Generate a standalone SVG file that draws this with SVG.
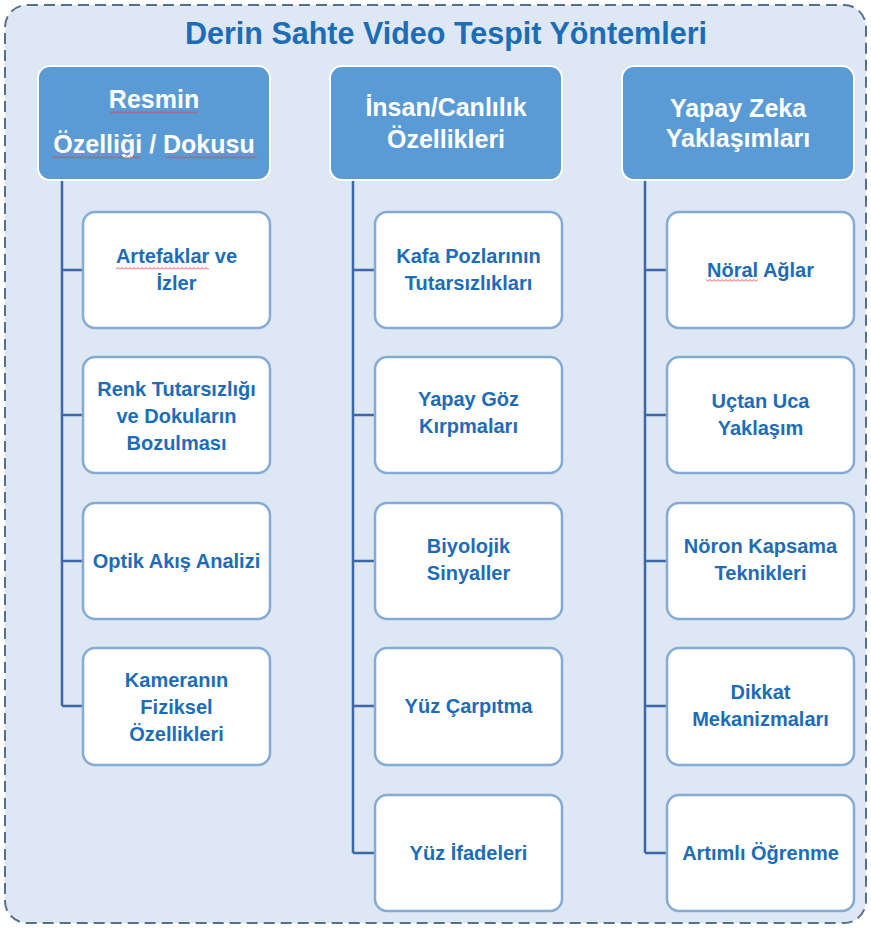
<svg xmlns="http://www.w3.org/2000/svg" width="871" height="928" viewBox="0 0 871 928">
  <defs>
    <pattern id="wave" width="4" height="3" patternUnits="userSpaceOnUse">
      <path d="M0,2.5 L2,0.5 L4,2.5" fill="none" stroke="#e03c3c" stroke-width="0.9"/>
    </pattern>
    <style>
      .frame { fill: #dde8f4; stroke: #56708c; stroke-width: 2; stroke-dasharray: 11 6; }
      .title { font-family: "Liberation Sans", Arial, sans-serif; font-weight: bold; font-size: 30.5px; fill: #1d6cb8; text-anchor: middle; }
      .head rect { fill: #5b9bd5; stroke: #ffffff; stroke-width: 2; }
      .head text { font-family: "Liberation Sans", Arial, sans-serif; font-weight: bold; font-size: 25px; fill: #ffffff; text-anchor: middle; }
      .item rect { fill: #ffffff; stroke: #85aad6; stroke-width: 2.5; }
      .item text { font-family: "Liberation Sans", Arial, sans-serif; font-weight: bold; font-size: 20px; fill: #1d6cb8; text-anchor: middle; }
      .conn { fill: none; stroke: #3f66a8; stroke-width: 2.5; }
      .head rect.sq, .item rect.sq { stroke: none; fill: url(#wave); }
    </style>
  </defs>

  <rect class="frame" x="5" y="5" width="861" height="918" rx="22" ry="22"/>
  <text class="title" x="446" y="44">Derin Sahte Video Tespit Yöntemleri</text>

  <g id="connectors">
    <path class="conn" d="M62,180 V706 M62,270 H83 M62,415 H83 M62,561 H83 M62,706 H83"/>
    <path class="conn" d="M353,180 V853 M353,270 H375 M353,415 H375 M353,561 H375 M353,706 H375 M353,853 H375"/>
    <path class="conn" d="M645,180 V853 M645,270 H667 M645,415 H667 M645,561 H667 M645,706 H667 M645,853 H667"/>
  </g>

  <!-- Column 1 -->
  <g id="h1" class="head">
    <rect x="38" y="66" width="232" height="114" rx="12" ry="12"/>
    <text x="154" y="108">Resmin</text>
    <text x="154" y="153">Özelliği / Dokusu</text>
    <rect class="sq" x="110" y="111" width="88" height="3"/>
    <rect class="sq" x="52" y="156" width="88" height="3"/>
    <rect class="sq" x="166" y="156" width="91" height="3"/>
  </g>
  <g id="c1r1" class="item">
    <rect x="83" y="212" width="187" height="116" rx="12" ry="12"/>
    <text x="176.5" y="263">Artefaklar ve</text>
    <text x="176.5" y="290">İzler</text>
    <rect class="sq" x="116" y="267" width="93" height="3"/>
  </g>
  <g id="c1r2" class="item">
    <rect x="83" y="357" width="187" height="116" rx="12" ry="12"/>
    <text x="176.5" y="396">Renk Tutarsızlığı</text>
    <text x="176.5" y="423">ve Dokuların</text>
    <text x="176.5" y="450">Bozulması</text>
  </g>
  <g id="c1r3" class="item">
    <rect x="83" y="503" width="187" height="116" rx="12" ry="12"/>
    <text x="176.5" y="568">Optik Akış Analizi</text>
  </g>
  <g id="c1r4" class="item">
    <rect x="83" y="648" width="187" height="117" rx="12" ry="12"/>
    <text x="176.5" y="687">Kameranın</text>
    <text x="176.5" y="714">Fiziksel</text>
    <text x="176.5" y="741">Özellikleri</text>
  </g>

  <!-- Column 2 -->
  <g id="h2" class="head">
    <rect x="330" y="66" width="232" height="114" rx="12" ry="12"/>
    <text x="446" y="116">İnsan/Canlılık</text>
    <text x="446" y="148">Özellikleri</text>
  </g>
  <g id="c2r1" class="item">
    <rect x="375" y="212" width="187" height="116" rx="12" ry="12"/>
    <text x="468.5" y="263">Kafa Pozlarının</text>
    <text x="468.5" y="290">Tutarsızlıkları</text>
  </g>
  <g id="c2r2" class="item">
    <rect x="375" y="357" width="187" height="116" rx="12" ry="12"/>
    <text x="468.5" y="406">Yapay Göz</text>
    <text x="468.5" y="433">Kırpmaları</text>
  </g>
  <g id="c2r3" class="item">
    <rect x="375" y="503" width="187" height="116" rx="12" ry="12"/>
    <text x="468.5" y="553">Biyolojik</text>
    <text x="468.5" y="580">Sinyaller</text>
  </g>
  <g id="c2r4" class="item">
    <rect x="375" y="648" width="187" height="117" rx="12" ry="12"/>
    <text x="468.5" y="713">Yüz Çarpıtma</text>
  </g>
  <g id="c2r5" class="item">
    <rect x="375" y="795" width="187" height="116" rx="12" ry="12"/>
    <text x="468.5" y="860">Yüz İfadeleri</text>
  </g>

  <!-- Column 3 -->
  <g id="h3" class="head">
    <rect x="622" y="66" width="232" height="114" rx="12" ry="12"/>
    <text x="738" y="117">Yapay Zeka</text>
    <text x="738" y="147">Yaklaşımları</text>
  </g>
  <g id="c3r1" class="item">
    <rect x="667" y="212" width="187" height="116" rx="12" ry="12"/>
    <text x="760.5" y="277">Nöral Ağlar</text>
    <rect class="sq" x="706" y="279" width="52" height="3"/>
  </g>
  <g id="c3r2" class="item">
    <rect x="667" y="357" width="187" height="116" rx="12" ry="12"/>
    <text x="760.5" y="408">Uçtan Uca</text>
    <text x="760.5" y="435">Yaklaşım</text>
  </g>
  <g id="c3r3" class="item">
    <rect x="667" y="503" width="187" height="116" rx="12" ry="12"/>
    <text x="760.5" y="553">Nöron Kapsama</text>
    <text x="760.5" y="580">Teknikleri</text>
  </g>
  <g id="c3r4" class="item">
    <rect x="667" y="648" width="187" height="117" rx="12" ry="12"/>
    <text x="760.5" y="699">Dikkat</text>
    <text x="760.5" y="726">Mekanizmaları</text>
  </g>
  <g id="c3r5" class="item">
    <rect x="667" y="795" width="187" height="116" rx="12" ry="12"/>
    <text x="760.5" y="860">Artımlı Öğrenme</text>
  </g>
</svg>
